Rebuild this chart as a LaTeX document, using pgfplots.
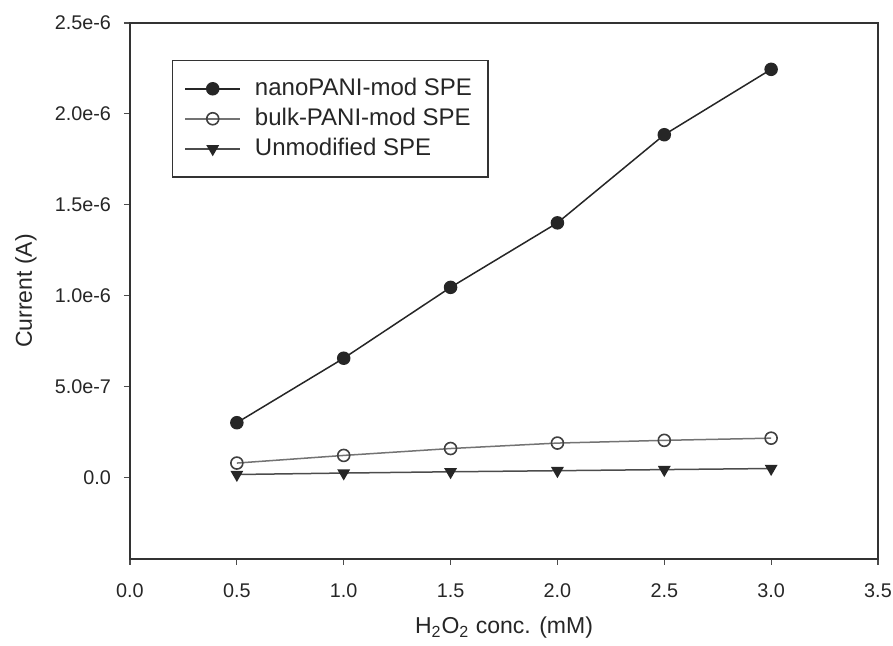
\documentclass[border=0pt]{standalone}
\usepackage{fontspec}
\setmainfont{Liberation Sans}
\usepackage{pgfplots}
\pgfplotsset{compat=1.18}
\begin{document}
\begin{tikzpicture}
\begin{axis}[
  scale only axis, width=374pt, height=268pt,
  xmin=0, xmax=3.5, ymin=-4.5e-7, ymax=2.5e-6,
  axis line style={draw=black!80, line width=0.8pt},
  xtick={0,0.5,1,1.5,2,2.5,3,3.5},
  xticklabels={0.0,0.5,1.0,1.5,2.0,2.5,3.0,3.5},
  ytick={0,5e-7,1e-6,1.5e-6,2e-6,2.5e-6},
  yticklabels={0.0,5.0e-7,1.0e-6,1.5e-6,2.0e-6,2.5e-6},
  scaled y ticks=false, scaled x ticks=false,
  tick align=outside, tick pos=left, major tick length=3pt,
  tick style={draw=black!70, line width=0.6pt},
  /pgf/number format/assume math mode=true,
  tick label style={font=\fontsize{9.9}{11}\selectfont, text=black!85},
  xticklabel style={yshift=-6pt},
  yticklabel style={xshift=-3pt},
  xlabel={H\textsubscript{2}O\textsubscript{2} conc. (mM)},
  ylabel={Current (A)},
  label style={font=\fontsize{11.5}{13}\selectfont, text=black!85},
  xlabel style={at={(axis description cs:0.5,-0.128)}, anchor=center},
  ylabel style={at={(axis description cs:-0.139,0.5)}, anchor=center},
  legend style={at={(axis description cs:0.056,0.931)}, anchor=north west,
    draw=black!80, line width=0.6pt, font=\fontsize{12}{14.25}\selectfont,
    inner xsep=6pt, inner ysep=7pt, row sep=0.8pt, text=black!85,
    /tikz/every odd column/.append style={column sep=5pt}},
  legend cell align=left,
  legend image code/.code={\draw[mark repeat=2,mark phase=2,#1] plot coordinates {(0pt,0pt) (13.75pt,0pt) (27.5pt,0pt)};},
]
\addplot[black!85, line width=0.75pt, mark=*, mark size=3pt, mark options={fill=black!85, draw=black!85}]
  coordinates {(0.5,3.0e-7)(1.0,6.55e-7)(1.5,1.045e-6)(2.0,1.40e-6)(2.5,1.885e-6)(3.0,2.245e-6)};
\addlegendentry{nanoPANI-mod SPE}
\addplot[black!55, line width=0.75pt, mark=o, mark size=3pt, mark options={fill=white, draw=black!75, line width=0.8pt}]
  coordinates {(0.5,7.8e-8)(1.0,1.2e-7)(1.5,1.58e-7)(2.0,1.88e-7)(2.5,2.03e-7)(3.0,2.15e-7)};
\addlegendentry{bulk-PANI-mod SPE}
\addplot[black!70, line width=0.75pt, mark=triangle*, mark size=3pt, mark options={rotate=180, fill=black!85, draw=black!85}]
  coordinates {(0.5,1.5e-8)(1.0,2.3e-8)(1.5,3.0e-8)(2.0,3.6e-8)(2.5,4.2e-8)(3.0,4.8e-8)};
\addlegendentry{Unmodified SPE}
\end{axis}
\pgfresetboundingbox
\path ([shift={(-65pt,-43.5pt)}]current axis.south west) rectangle ([shift={(7.5pt,11.5pt)}]current axis.north east);
\end{tikzpicture}
\end{document}
